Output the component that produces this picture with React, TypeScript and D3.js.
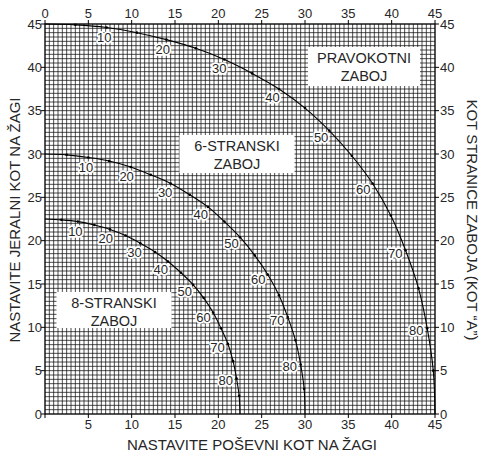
import React from "react";
import * as d3 from "d3";

// Box side tilt angles (degrees) at which the curves were read
const tiltAngles = [0, 5, 10, 15, 20, 25, 30, 35, 40, 45, 50, 55, 60, 65, 70, 75, 80, 85, 90];

// Rectangular box (4 sides): bevel (x) and miter (y)
const rectBevel = [0, 3.5, 7.1, 10.6, 14.0, 17.4, 20.7, 23.9, 27.0, 30.0, 32.8, 35.4, 37.8, 39.9, 41.6, 43.1, 44.1, 44.8, 45];
const rectMiter = [45, 44.9, 44.6, 44.0, 43.2, 42.2, 40.9, 39.3, 37.5, 35.3, 32.7, 29.8, 26.6, 22.9, 18.9, 14.5, 9.9, 5.0, 0];

// 6-sided box
const hexBevel = [0, 2.5, 5.0, 7.4, 9.9, 12.2, 14.5, 16.7, 18.8, 20.7, 22.5, 24.2, 25.7, 27.0, 28.0, 28.9, 29.5, 29.9, 30];
const hexMiter = [30, 29.9, 29.6, 29.2, 28.5, 27.6, 26.6, 25.3, 23.9, 22.2, 20.4, 18.3, 16.1, 13.7, 11.2, 8.5, 5.7, 2.9, 0];

// 8-sided box
const octBevel = [0, 1.9, 3.8, 5.7, 7.5, 9.3, 11.0, 12.7, 14.2, 15.7, 17.1, 18.3, 19.4, 20.3, 21.1, 21.7, 22.1, 22.4, 22.5];
const octMiter = [22.5, 22.4, 22.2, 21.8, 21.3, 20.6, 19.7, 18.7, 17.6, 16.3, 14.9, 13.4, 11.7, 9.9, 8.1, 6.1, 4.1, 2.1, 0];

const labelAngles = [10, 20, 30, 40, 50, 60, 70, 80];
const axisTicks = [0, 5, 10, 15, 20, 25, 30, 35, 40, 45];
const gridValues = d3.range(0, 45.01, 0.5);

const boxTitles = [
  { lines: ["PRAVOKOTNI", "ZABOJ"], cx: 364, top: 47, w: 112, h: 39 },
  { lines: ["6-STRANSKI", "ZABOJ"], cx: 237, top: 135, w: 115, h: 38 },
  { lines: ["8-STRANSKI", "ZABOJ"], cx: 114, top: 292, w: 115, h: 36 },
];

const xTitle = "NASTAVITE POŠEVNI KOT NA ŽAGI";
const yTitle = "NASTAVITE JERALNI KOT NA ŽAGI";
const y2Title = "KOT STRANICE ZABOJA (KOT \u201CA\u201D)";

const FONT = "'Liberation Sans', Arial, Helvetica, sans-serif";
const TEXT = "#262626";

export default function App() {
  const left = 45, right = 435, top = 24, bottom = 414;
  const x = d3.scaleLinear().domain([0, 45]).range([left, right]);
  const y = d3.scaleLinear().domain([0, 45]).range([bottom, top]);

  const curves = [
    { bx: rectBevel, my: rectMiter },
    { bx: hexBevel, my: hexMiter },
    { bx: octBevel, my: octMiter },
  ];

  const line = d3
    .line<[number, number]>()
    .x((d) => x(d[0]))
    .y((d) => y(d[1]))
    .curve(d3.curveCatmullRom.alpha(0.5));

  return (
    <svg
      width={481}
      height={452}
      style={{ position: "absolute", left: 0, top: 0, background: "#fff" }}
      fontFamily={FONT}
    >
      {/* grid */}
      <g stroke="#111" strokeWidth={0.75}>
        {gridValues.map((v) => (
          <line key={"gx" + v} x1={x(v)} x2={x(v)} y1={y(0)} y2={y(45)} />
        ))}
        {gridValues.map((v) => (
          <line key={"gy" + v} y1={y(v)} y2={y(v)} x1={x(0)} x2={x(45)} />
        ))}
      </g>
      <rect x={left} y={top} width={right - left} height={bottom - top} fill="none" stroke="#000" strokeWidth={1} />

      {/* ticks */}
      <g stroke="#000" strokeWidth={1}>
        {axisTicks.map((t) => (
          <g key={"t" + t}>
            <line x1={x(t)} x2={x(t)} y1={bottom} y2={bottom + 4} />
            <line x1={x(t)} x2={x(t)} y1={top} y2={top - 4} />
            <line y1={y(t)} y2={y(t)} x1={left} x2={left - 4} />
            <line y1={y(t)} y2={y(t)} x1={right} x2={right + 4} />
          </g>
        ))}
      </g>

      {/* tick labels */}
      <g fill={TEXT} fontSize={13}>
        {axisTicks.map((t) => (
          <text key={"tt" + t} x={x(t)} y={17.5} textAnchor="middle">{t}</text>
        ))}
        {axisTicks.filter((t) => t > 0).map((t) => (
          <text key={"bt" + t} x={x(t)} y={429} textAnchor="middle">{t}</text>
        ))}
        {axisTicks.map((t) => (
          <text key={"lt" + t} x={42} y={y(t) + 4.5} textAnchor="end">{t}</text>
        ))}
        {axisTicks.map((t) => (
          <text key={"rt" + t} x={440} y={y(t) + 4.5} textAnchor="start">{t}</text>
        ))}
      </g>

      {/* curves */}
      {curves.map((c, ci) => {
        const pts: [number, number][] = tiltAngles.map((_, i) => [c.bx[i], c.my[i]]);
        return (
          <g key={"c" + ci}>
            <path d={line(pts) || ""} fill="none" stroke="#000" strokeWidth={1.1} />
            {pts.slice(1, -1).map((p, i) => (
              <circle key={i} cx={x(p[0])} cy={y(p[1])} r={1.3} fill="#000" />
            ))}
          </g>
        );
      })}

      {/* angle labels */}
      {curves.map((c, ci) => (
        <g key={"l" + ci} fontSize={13} fill={TEXT}>
          {labelAngles.map((a) => {
            const i = tiltAngles.indexOf(a);
            const px = x(c.bx[i]), py = y(c.my[i]);
            const dx = x(c.bx[i + 1]) - x(c.bx[i - 1]);
            const dy = y(c.my[i + 1]) - y(c.my[i - 1]);
            const len = Math.hypot(dx, dy) || 1;
            const nx = -dy / len, ny = dx / len;
            const lx = px + nx * 10 - 1;
            const ly = py + ny * 10;
            return (
              <text
                key={a}
                x={lx}
                y={ly + 4.6}
                textAnchor="middle"
                stroke="#fff"
                strokeWidth={3.5}
                strokeLinejoin="round"
                paintOrder="stroke"
              >
                {a}
              </text>
            );
          })}
        </g>
      ))}

      {/* box titles */}
      {boxTitles.map((b, bi) => (
        <g key={"b" + bi}>
          <rect x={b.cx - b.w / 2} y={b.top} width={b.w} height={b.h} fill="#fff" />
          {b.lines.map((l, li) => (
            <text
              key={li}
              x={b.cx}
              y={b.top + 16 + li * 18}
              textAnchor="middle"
              fontSize={14.5}
              fill={TEXT}
            >
              {l}
            </text>
          ))}
        </g>
      ))}

      {/* axis titles */}
      <text x={252} y={450} textAnchor="middle" fontSize={15} fill={TEXT}>{xTitle}</text>
      <text transform={`translate(20,220) rotate(-90)`} textAnchor="middle" fontSize={15} fill={TEXT}>{yTitle}</text>
      <text transform={`translate(467,220) rotate(90)`} textAnchor="middle" fontSize={15} fill={TEXT}>{y2Title}</text>
    </svg>
  );
}
